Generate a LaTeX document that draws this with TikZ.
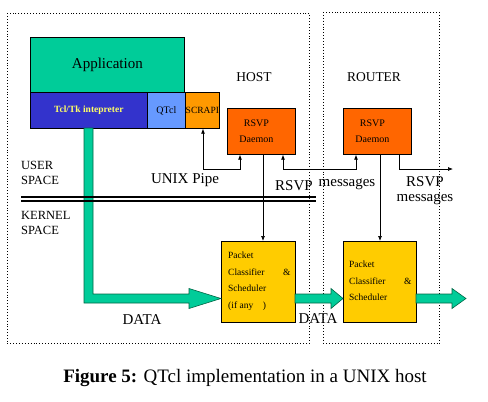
\documentclass[tikz,border=0pt]{standalone}
\usepackage{fontspec}
\setmainfont{Liberation Serif}
\usetikzlibrary{arrows.meta}
\definecolor{appgreen}{HTML}{00CC99}
\definecolor{tclblue}{HTML}{3333CC}
\definecolor{qblue}{HTML}{6699FF}
\definecolor{scrorange}{HTML}{FF9900}
\definecolor{dorange}{HTML}{FF6600}
\definecolor{pcyellow}{HTML}{FFCC00}
\definecolor{tclyellow}{HTML}{FFFF66}
\definecolor{arrowedge}{HTML}{006644}
\tikzset{
  blk/.style={draw=black, line width=0.7pt, rectangle, inner sep=0pt, anchor=north west},
  frame/.style={draw=black, dotted, line width=0.9pt, rectangle, inner sep=0pt, anchor=north west},
  conn/.style={draw=black, line width=0.7pt},
  tip/.style={-{Latex[length=5pt,width=4pt]}},
  tips/.style={{Latex[length=5pt,width=4pt]}-{Latex[length=5pt,width=4pt]}},
  fat/.style={fill=appgreen, draw=arrowedge, line width=0.6pt},
  lbl/.style={inner sep=0pt, font=\fontsize{15}{15}\selectfont},
  small/.style={inner sep=0pt, font=\fontsize{12.5}{15}\selectfont, align=left, anchor=west},
  pctext/.style={inner sep=0pt, font=\fontsize{9.5}{16.5}\selectfont, align=left, anchor=west},
  dtext/.style={inner sep=0pt, font=\fontsize{10}{16}\selectfont, align=center}
}
\begin{document}
\begin{tikzpicture}[x=1pt,y=-1pt]
\useasboundingbox (0,0) rectangle (488,402);
% frames
\node[frame, minimum width=302pt, minimum height=330pt] (hostbox) at (7,13) {};
\node[frame, minimum width=116pt, minimum height=331pt] (routerbox) at (323,12) {};
% application stack
\node[blk, fill=appgreen, minimum width=154pt, minimum height=55pt] (app) at (30,37) {};
\node[lbl] at (app.center) {Application};
\node[blk, fill=tclblue, minimum width=117pt, minimum height=36pt] (tcl) at (30,92) {};
\node[inner sep=0pt, text=tclyellow, font=\fontsize{9.5}{10}\selectfont\bfseries] at (tcl.center) {Tcl/Tk intepreter};
\node[blk, fill=qblue, minimum width=38pt, minimum height=36pt] (qtcl) at (147,92) {};
\node[inner sep=0pt, font=\fontsize{10}{10}\selectfont] at (qtcl.center) {QTcl};
\node[blk, fill=scrorange, minimum width=34pt, minimum height=36pt] (scrapi) at (185,92) {};
\node[inner sep=0pt, font=\fontsize{9.5}{10}\selectfont] at (scrapi.center) {SCRAPI};
% daemons
\node[blk, fill=dorange, minimum width=68pt, minimum height=46pt] (hd) at (227,108) {};
\node[dtext] at ([xshift=-5pt]hd.center) {RSVP\\Daemon};
\node[blk, fill=dorange, minimum width=68pt, minimum height=46pt] (rd) at (343,108) {};
\node[dtext] at ([xshift=-5pt]rd.center) {RSVP\\Daemon};
% packet classifiers
\node[blk, fill=pcyellow, minimum width=74pt, minimum height=81pt] (hpc) at (221,241) {};
\node[pctext] at (228,281) {Packet\\\makebox[55pt][l]{Classifier}\&\\Scheduler\\(if any\quad)};
\node[blk, fill=pcyellow, minimum width=73pt, minimum height=81pt] (rpc) at (343,241) {};
\node[pctext] at (349,281) {Packet\\\makebox[55pt][l]{Classifier}\&\\Scheduler};
% labels
\node[lbl, font=\fontsize{13.5}{14}\selectfont] (hostlbl) at (254,77) {HOST};
\node[lbl, font=\fontsize{13.5}{14}\selectfont] (routerlbl) at (374,77) {ROUTER};
\node[small] (user) at (21,172.5) {USER\\SPACE};
\node[small] (kernel) at (21,223) {KERNEL\\SPACE};
\node[lbl] (pipe) at (185,180) {UNIX Pipe};
\node[lbl] (rsvp1) at (294,186) {RSVP};
\node[lbl] (msg1) at (347,184) {messages};
\node[lbl, align=center] (rsvp2) at (425,190.5) {RSVP\\messages};
\node[lbl] (data1) at (142,320) {DATA};
\node[lbl] (data2) at (318,319) {DATA};
\node[inner sep=0pt, font=\fontsize{19}{20}\selectfont] (caption) at (245,378) {\textbf{Figure 5:} QTcl implementation in a UNIX host};
% green data arrows
\draw[fat] (84,128) -- (93,128) -- (93,294) -- (189,294) -- (189,288.5) -- (221,298.5) -- (189,308.5) -- (189,303) -- (84,303) -- cycle;
\draw[fat] (295,294) -- (331,294) -- (331,288.5) -- (343,298.5) -- (331,308.5) -- (331,303) -- (295,303) -- cycle;
\draw[fat] (416,294) -- (452,294) -- (452,288.5) -- (466,298.5) -- (452,308.5) -- (452,303) -- (416,303) -- cycle;
% user/kernel boundary
\coordinate (bl) at (21,197);
\coordinate (br) at (316,197);
\draw[line width=1.8pt] (bl) -- (br);
\draw[line width=1.8pt] ([yshift=-4pt]bl) -- ([yshift=-4pt]br);
% connectors
\coordinate (p1) at (203,169);
\coordinate (p2) at (240,169);
\draw[conn, tips] (scrapi.south -| p1) -- (p1) -- (p2) -- (hd.south -| p2);
\coordinate (m1) at (283,169);
\coordinate (m2) at (356,169);
\draw[conn, tips] (hd.south -| m1) -- (m1) -- (m2) -- (rd.south -| m2);
\coordinate (m3) at (399,169);
\coordinate (out) at (453,169);
\draw[conn, tip] (rd.south -| m3) -- (m3) -- (out);
\coordinate (v1) at (263,0);
\draw[conn, tip] (hd.south -| v1) -- (hpc.north -| v1);
\coordinate (v2) at (380,0);
\draw[conn, tip] (rd.south -| v2) -- (rpc.north -| v2);
\end{tikzpicture}
\end{document}
